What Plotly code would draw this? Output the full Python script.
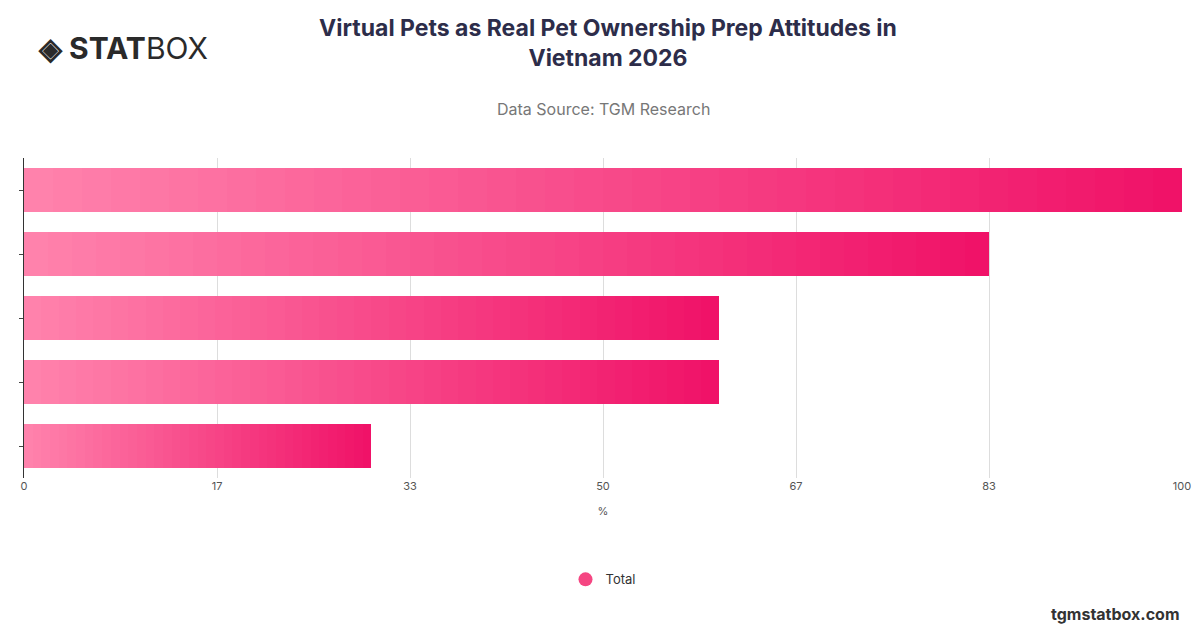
import plotly.graph_objects as go

categories = ["A", "B", "C", "D", "E"]
values = [100, 83.3, 60, 60, 30]
tick_vals = [0, 16.667, 33.333, 50, 66.667, 83.333, 100]
tick_text = ["0", "17", "33", "50", "67", "83", "100"]

N = 40
c0 = (255, 130, 172)
c1 = (240, 18, 104)
fig = go.Figure()
for i in range(N):
    t = i / (N - 1)
    col = "rgb(%d,%d,%d)" % tuple(round(a + (b - a) * t) for a, b in zip(c0, c1))
    fig.add_trace(go.Bar(y=categories, x=[v / N for v in values], orientation="h",
                         marker=dict(color=col, line=dict(width=0)), showlegend=False,
                         hoverinfo="skip"))
fig.add_trace(go.Scatter(x=[None], y=[None], mode="markers", name="Total",
                         marker=dict(size=14, color="rgb(245,70,130)")))

fig.update_layout(
    width=1200, height=628, barmode="stack", bargap=0.32,
    plot_bgcolor="white", paper_bgcolor="white",
    margin=dict(l=14, r=26, t=150, b=158),
    font=dict(family="Inter, Roboto, sans-serif", color="#555"),
    title=dict(text="<b>Virtual Pets as Real Pet Ownership Prep Attitudes in<br>Vietnam 2026</b>",
               x=0.5, xanchor="center", y=0.955, yanchor="top",
               font=dict(size=23, color="#2d2d4a")),
    xaxis=dict(range=[0, 100], tickvals=tick_vals, ticktext=tick_text, showgrid=True,
               gridcolor="#dddddd", zeroline=False, title=dict(text="%", font=dict(size=11)),
               tickfont=dict(size=11)),
    yaxis=dict(autorange="reversed", showticklabels=False, showline=True, linecolor="#333",
               ticks="outside", ticklen=4, showgrid=False),
    legend=dict(orientation="h", x=0.5, xanchor="center", y=-0.27, yanchor="top",
                font=dict(size=13, color="#333")),
    annotations=[
        dict(text="Data Source: TGM Research", x=0.5, xref="paper", y=101, yref="paper",
             showarrow=False, font=dict(size=16, color="#777")),
        dict(text="<b>◈ STAT</b>BOX", xref="paper", yref="paper", x=0.0, y=1.0, showarrow=False,
             font=dict(size=30, color="#2a2a2a"), xanchor="left", yanchor="top"),
        dict(text="<b>tgmstatbox.com</b>", xref="paper", yref="paper", x=1.0, y=0, showarrow=False,
             font=dict(size=16, color="#333"), xanchor="right", yanchor="bottom"),
    ],
)
# position annotations in pixel-ish paper coords
ann = list(fig.layout.annotations)
fig.layout.annotations = []
fig.add_annotation(text="Data Source: TGM Research", xref="paper", yref="paper", x=0.5, y=1 + (150 - 101) / 320,
                   showarrow=False, font=dict(size=16, color="#777"), yanchor="middle")
fig.add_annotation(text="<b>◈ STAT</b>BOX", xref="paper", yref="paper", x=0.01, y=1 + (150 - 40) / 320,
                   showarrow=False, font=dict(size=30, color="#2a2a2a"), xanchor="left", yanchor="middle")
fig.add_annotation(text="<b>tgmstatbox.com</b>", xref="paper", yref="paper", x=1.0, y=-(606 - 470) / 320,
                   showarrow=False, font=dict(size=16, color="#333"), xanchor="right", yanchor="middle")
fig.write_html("out.html")
